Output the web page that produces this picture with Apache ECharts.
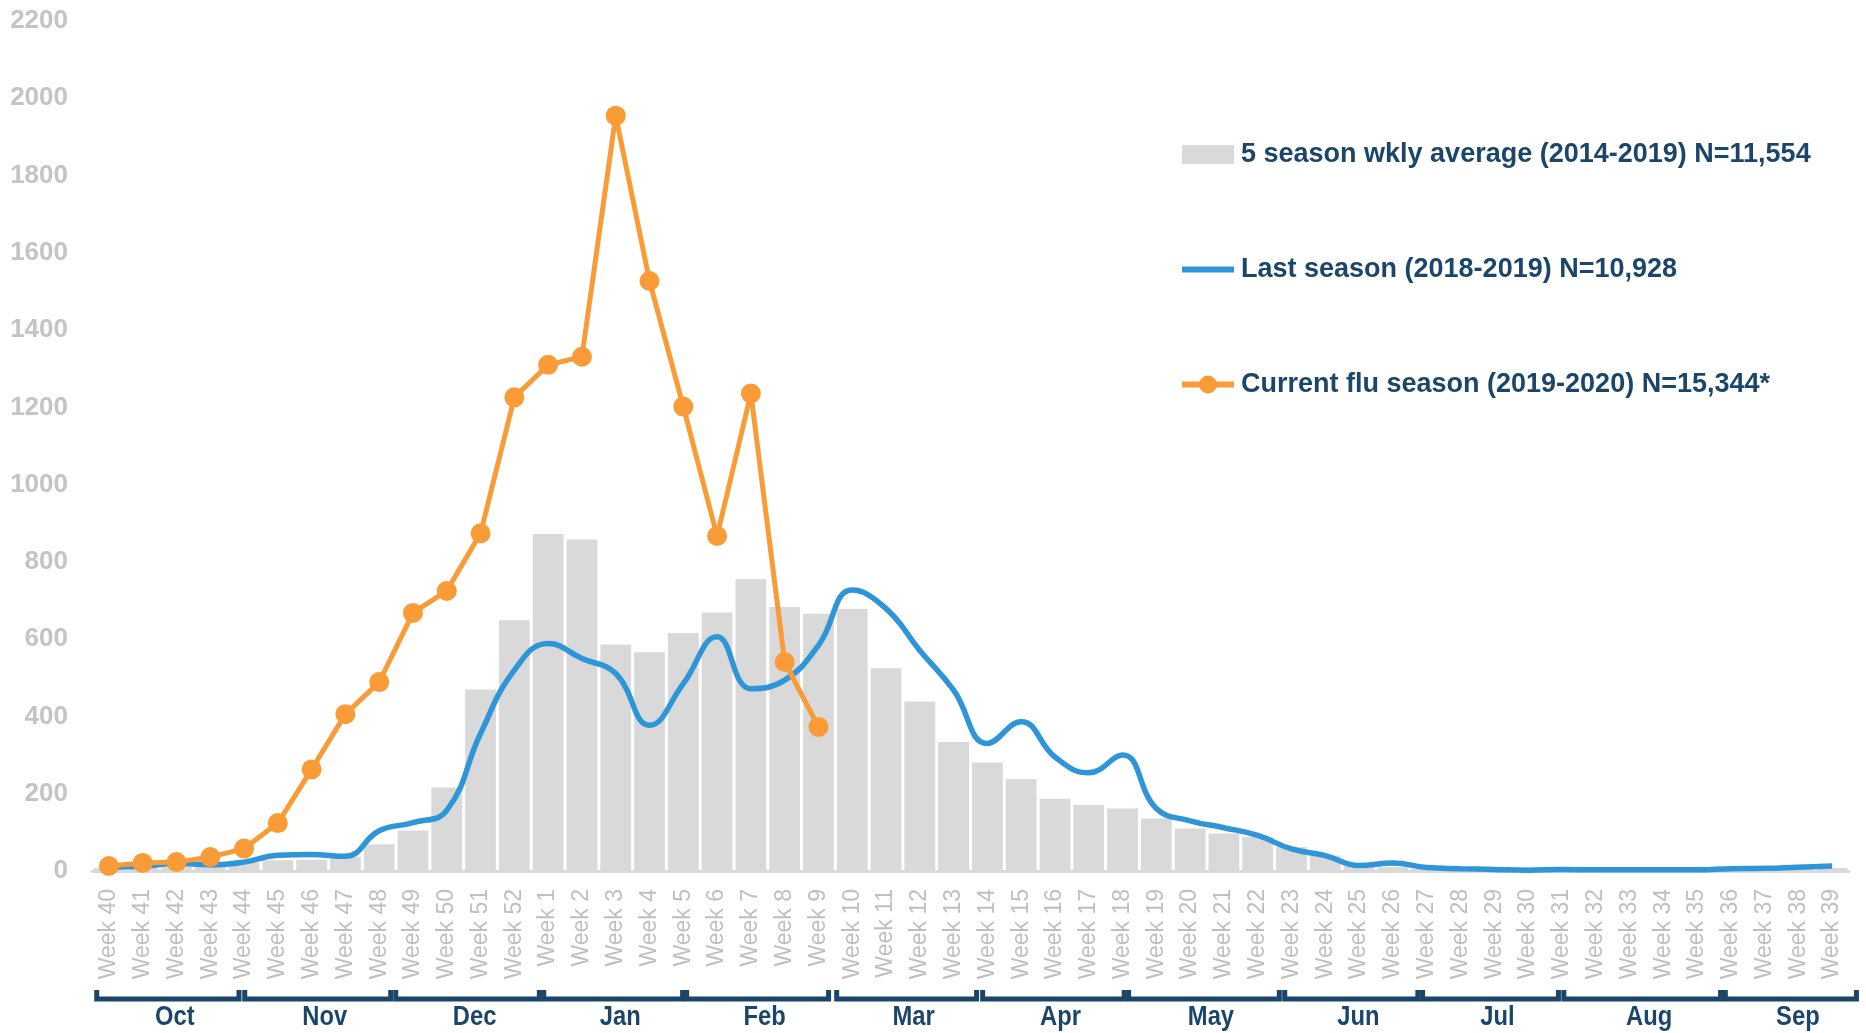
<!DOCTYPE html>
<html lang="en">
<head>
    <meta charset="UTF-8">
    <title>Flu season weekly counts</title>
    <script src="https://cdn.jsdelivr.net/npm/echarts@6/dist/echarts.min.js"></script>
    <style>
        html, body { margin: 0; padding: 0; background: #fff; }
        #chart { width: 1866px; height: 1033px; }
    </style>
</head>
<body>
<div id="chart"></div>
<script>
    // week labels on the x axis (season starts at week 40)
    const weeks = ['Week 40', 'Week 41', 'Week 42', 'Week 43', 'Week 44', 'Week 45', 'Week 46', 'Week 47',
        'Week 48', 'Week 49', 'Week 50', 'Week 51', 'Week 52', 'Week 1', 'Week 2', 'Week 3', 'Week 4',
        'Week 5', 'Week 6', 'Week 7', 'Week 8', 'Week 9', 'Week 10', 'Week 11', 'Week 12', 'Week 13',
        'Week 14', 'Week 15', 'Week 16', 'Week 17', 'Week 18', 'Week 19', 'Week 20', 'Week 21', 'Week 22',
        'Week 23', 'Week 24', 'Week 25', 'Week 26', 'Week 27', 'Week 28', 'Week 29', 'Week 30', 'Week 31',
        'Week 32', 'Week 33', 'Week 34', 'Week 35', 'Week 36', 'Week 37', 'Week 38', 'Week 39'];

    // 5 season weekly average (bars)
    const avgBars = [8, 10, 14, 17, 22, 28, 29, 36, 69, 105, 216, 470, 649,
        872, 858, 586, 566, 616, 669, 755, 683, 666, 679, 525, 439, 334, 281, 238, 187, 171, 162,
        136, 110, 97, 88, 62, 40, 16, 10, 6, 5, 4, 4, 4, 3, 3, 3, 4, 4, 5, 6, 8];

    // last season (smooth blue line)
    const lastSeason = [10, 12, 20, 16, 23, 41, 43, 38, 104, 125, 157, 356, 520,
        589, 550, 511, 377, 485, 606, 472, 494, 584, 727, 679, 571, 468, 330, 386, 295, 254, 300,
        162, 130, 112, 92, 57, 40, 14, 21, 9, 6, 4, 2, 4, 3, 3, 3, 3, 6, 7, 10, 13];

    // current season so far (orange line with dots)
    const currentSeason = [13, 21, 23, 36, 58, 124, 263, 406, 489, 668, 725, 874, 1226,
        1310, 1331, 1955, 1527, 1202, 867, 1236, 541, 373];

    const seriesNames = ['5 season wkly average (2014-2019) N=11,554',
        'Last season (2018-2019) N=10,928',
        'Current flu season (2019-2020) N=15,344*'];

    // month brackets below the axis, in week-index units
    const monthNames = ['Oct', 'Nov', 'Dec', 'Jan', 'Feb', 'Mar', 'Apr', 'May', 'Jun', 'Jul', 'Aug', 'Sep'];
    const monthStart = [-0.36, 4.02, 8.49, 12.87, 17.10, 21.54, 25.86, 30.18, 34.80, 38.88, 43.06, 47.84];
    const monthEnd = [3.85, 8.34, 12.74, 16.98, 21.30, 25.68, 30.05, 34.64, 38.74, 42.90, 47.70, 51.72];

    const sans = "'Liberation Sans', Arial, sans-serif";
    const navy = '#1B4669';
    const blue = '#2E96D8';
    const orange = '#F99B36';

    const chart = echarts.init(document.getElementById('chart'));

    const option = {
        animation: false,
        grid: {left: 92, right: 17, top: 21, bottom: 162},
        legend: {
            orient: 'vertical',
            left: 1177,
            top: 134,
            itemWidth: 52,
            itemHeight: 19,
            itemGap: 84,
            data: [
                {name: seriesNames[0], icon: 'rect'},
                {name: seriesNames[1], icon: 'path://M0,0 H52 V6 H0 Z', itemStyle: {borderWidth: 0}},
                {
                    name: seriesNames[2],
                    icon: 'path://M0,6.5 H52 V12.5 H0 Z M17,9.5 A9,9 0 1,1 35,9.5 A9,9 0 1,1 17,9.5 Z',
                    itemStyle: {borderWidth: 0}
                }
            ],
            textStyle: {
                color: navy,
                fontFamily: sans,
                fontWeight: 'bold',
                fontSize: 27,
                lineHeight: 31,
                padding: [0, 0, 0, 2]
            }
        },
        xAxis: {
            type: 'category',
            data: weeks,
            axisTick: {show: false},
            axisLine: {lineStyle: {color: '#d9d9d9', width: 3}},
            axisLabel: {
                rotate: 90,
                interval: 0,
                margin: 18,
                color: '#bfbfbf',
                fontFamily: sans,
                fontSize: 23
            }
        },
        yAxis: {
            type: 'value',
            min: 0,
            max: 2200,
            interval: 200,
            splitLine: {show: false},
            axisLine: {show: false},
            axisTick: {show: false},
            axisLabel: {
                margin: 24,
                color: '#c4c4c4',
                fontFamily: sans,
                fontWeight: 'bold',
                fontSize: 26,
                formatter: v => String(v)
            }
        },
        series: [
            {
                name: seriesNames[0],
                type: 'bar',
                data: avgBars,
                barCategoryGap: '9%',
                itemStyle: {color: '#d9d9d9'}
            },
            {
                name: seriesNames[1],
                type: 'line',
                data: lastSeason,
                smooth: 0.45,
                symbol: 'none',
                lineStyle: {color: blue, width: 5.5},
                itemStyle: {color: blue}
            },
            {
                name: seriesNames[2],
                type: 'line',
                data: currentSeason,
                symbol: 'circle',
                symbolSize: 20,
                lineStyle: {color: orange, width: 5},
                itemStyle: {color: orange}
            }
        ]
    };

    chart.setOption(option);

    // month brackets + labels, placed with the x axis scale
    function drawMonths() {
        const x0 = chart.convertToPixel({xAxisIndex: 0}, 0);
        const x1 = chart.convertToPixel({xAxisIndex: 0}, 1);
        const step = x1 - x0;
        const axisY = chart.convertToPixel({yAxisIndex: 0}, 0);
        const elements = [];
        monthNames.forEach((name, i) => {
            const a = x0 + monthStart[i] * step;
            const b = x0 + monthEnd[i] * step;
            elements.push({
                type: 'polyline',
                shape: {points: [[a, axisY + 119], [a, axisY + 128], [b, axisY + 128], [b, axisY + 119]]},
                style: {stroke: navy, lineWidth: 5, fill: null}
            });
            elements.push({
                type: 'text',
                x: (a + b) / 2 + 7,
                y: axisY + 147,
                scaleX: 0.88,
                style: {
                    text: name,
                    fill: navy,
                    font: 'bold 27px ' + sans,
                    textAlign: 'center',
                    textVerticalAlign: 'middle'
                }
            });
        });
        chart.setOption({graphic: {elements: elements}});
    }

    drawMonths();
</script>
</body>
</html>
